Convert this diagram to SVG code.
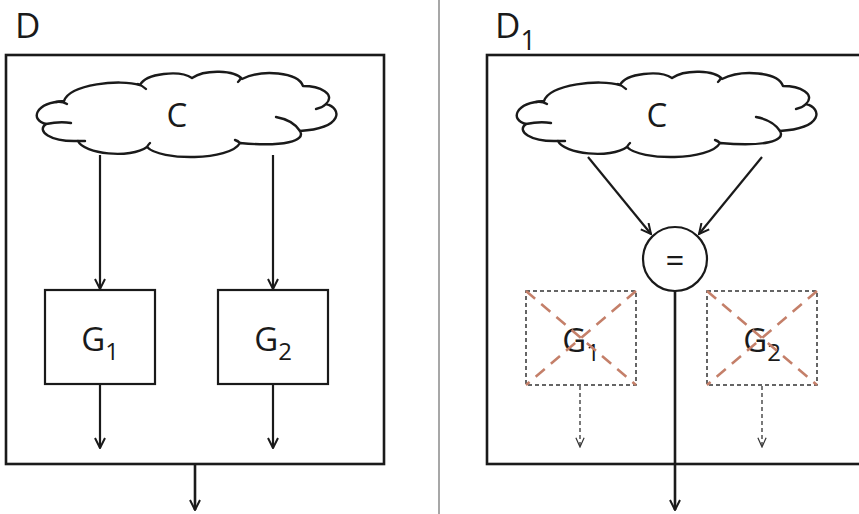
<svg xmlns="http://www.w3.org/2000/svg" width="859" height="514" viewBox="0 0 859 514">
  <style>
    .frame { fill: none; stroke: #1a1a1a; stroke-width: 2.6; }
    .box { fill: #ffffff; stroke: #1a1a1a; stroke-width: 2.2; }
    .dbox { fill: #ffffff; stroke: #333333; stroke-width: 1.5; stroke-dasharray: 4 3; }
    .cross { stroke: #c47f69; stroke-width: 2.5; stroke-dasharray: 12 8; fill: none; }
    .cloud { fill: #ffffff; stroke: #1a1a1a; stroke-width: 2.4; stroke-linejoin: round; }
    .hook { fill: none; stroke: #1a1a1a; stroke-width: 2.4; stroke-linecap: round; }
    .line { fill: none; stroke: #1a1a1a; stroke-width: 2.2; }
    .thick { fill: none; stroke: #1a1a1a; stroke-width: 2.6; }
    .dline { fill: none; stroke: #333333; stroke-width: 1.3; stroke-dasharray: 4 3; }
    .lbl { font-family: "Open Sans", "Noto Sans", "DejaVu Sans", sans-serif; fill: #1a1a1a; }
    .big { font-size: 33px; }
    .sub { font-size: 24px; }
    .title { font-size: 35px; }
    .tsub { font-size: 27px; }
  </style>
  <defs>
    <marker id="arrow" viewBox="0 0 12 12" refX="11" refY="6" markerWidth="12" markerHeight="12" markerUnits="userSpaceOnUse" orient="auto">
      <path d="M1,1 L11,6 L1,11" fill="none" stroke="#1a1a1a" stroke-width="2"/>
    </marker>
    <marker id="arrowThin" viewBox="0 0 12 12" refX="11" refY="6" markerWidth="11" markerHeight="11" markerUnits="userSpaceOnUse" orient="auto">
      <path d="M1,1.5 L11,6 L1,10.5" fill="none" stroke="#333333" stroke-width="1.3"/>
    </marker>
    <!-- cloud outline, drawn at the left panel position -->
    <g id="cloudShape">
      <path class="cloud" d="M64,101 C70,84 120,79 140,85 C146,73 180,70 192,78 C205,69 235,70 242,79 C262,69 298,72 303,86 C320,86 336,94 326,104 C342,108 344,128 300,131 C306,141 284,147 240,143 C230,161 160,161 147,147 C130,159 84,154 78,141 C50,142 36,131 46,124 C30,120 34,103 64,101 Z"/>
      <path class="hook" d="M56,102 Q62,101 67,104"/>
      <path class="hook" d="M46,124 Q60,121 71,123"/>
      <path class="hook" d="M78,141 Q81,141 85,141"/>
      <path class="hook" d="M138,84 Q143,86 146,89"/>
      <path class="hook" d="M241,78 Q240,80 238,82"/>
      <path class="hook" d="M326,104 Q322,108 316,109"/>
      <path class="hook" d="M300,131 Q293,120 276,117"/>
      <path class="hook" d="M240,143 Q238,141 235,140"/>
      <path class="hook" d="M147,147 Q148,145 150,143"/>
    </g>
  </defs>

  <rect width="859" height="514" fill="#ffffff"/>

  <!-- panel divider -->
  <line x1="439" y1="0" x2="439" y2="514" stroke="#8a8a8a" stroke-width="1.5"/>

  <!-- left panel: D -->
  <g id="panel-D">
    <text class="lbl title" x="15" y="38">D</text>
    <rect class="frame" x="6" y="55" width="378" height="409"/>
  </g>

  <g id="cloud-C">
    <use href="#cloudShape"/>
    <text class="lbl big" x="177" y="127" text-anchor="middle">C</text>
  </g>

  <g id="node-G1">
    <rect class="box" x="45" y="290" width="110" height="94"/>
    <text class="lbl" x="100" y="351" text-anchor="middle"><tspan class="big">G</tspan><tspan class="sub" dy="9">1</tspan></text>
  </g>

  <g id="node-G2">
    <rect class="box" x="218" y="290" width="110" height="94"/>
    <text class="lbl" x="273" y="351" text-anchor="middle"><tspan class="big">G</tspan><tspan class="sub" dy="9">2</tspan></text>
  </g>

  <!-- right panel: D1 -->
  <g id="panel-D1">
    <text class="lbl title" x="495" y="38">D<tspan class="tsub" dy="12">1</tspan></text>
    <rect class="frame" x="487" y="55" width="380" height="409"/>
  </g>

  <g id="cloud-C1">
    <use href="#cloudShape" transform="translate(480,0)"/>
    <text class="lbl big" x="657" y="127" text-anchor="middle">C</text>
  </g>

  <g id="node-eq">
    <circle class="box" cx="675" cy="259" r="32"/>
    <text class="lbl big" x="675" y="272" text-anchor="middle">=</text>
  </g>

  <g id="node-G1-off">
    <rect class="dbox" x="526" y="291" width="110" height="94"/>
    <text class="lbl" x="581" y="352" text-anchor="middle"><tspan class="big">G</tspan><tspan class="sub" dy="9">1</tspan></text>
    <line class="cross" x1="526" y1="291" x2="636" y2="385"/>
    <line class="cross" x1="636" y1="291" x2="526" y2="385"/>
  </g>

  <g id="node-G2-off">
    <rect class="dbox" x="707" y="291" width="110" height="94"/>
    <text class="lbl" x="762" y="352" text-anchor="middle"><tspan class="big">G</tspan><tspan class="sub" dy="9">2</tspan></text>
    <line class="cross" x1="707" y1="291" x2="817" y2="385"/>
    <line class="cross" x1="817" y1="291" x2="707" y2="385"/>
  </g>

  <!-- connectors -->
  <g id="connectors">
    <line class="line" x1="100" y1="155" x2="100" y2="289" marker-end="url(#arrow)"/>
    <line class="line" x1="273" y1="155" x2="273" y2="289" marker-end="url(#arrow)"/>
    <line class="line" x1="100" y1="385" x2="100" y2="448" marker-end="url(#arrow)"/>
    <line class="line" x1="273" y1="385" x2="273" y2="448" marker-end="url(#arrow)"/>
    <line class="thick" x1="195" y1="464" x2="195" y2="510" marker-end="url(#arrow)"/>

    <line class="line" x1="588" y1="157" x2="651" y2="234" marker-end="url(#arrow)"/>
    <line class="line" x1="762" y1="157" x2="699" y2="234" marker-end="url(#arrow)"/>
    <line class="thick" x1="675" y1="291" x2="675" y2="510" marker-end="url(#arrow)"/>
    <line class="dline" x1="580" y1="386" x2="580" y2="447" marker-end="url(#arrowThin)"/>
    <line class="dline" x1="762" y1="386" x2="762" y2="447" marker-end="url(#arrowThin)"/>
  </g>
</svg>
